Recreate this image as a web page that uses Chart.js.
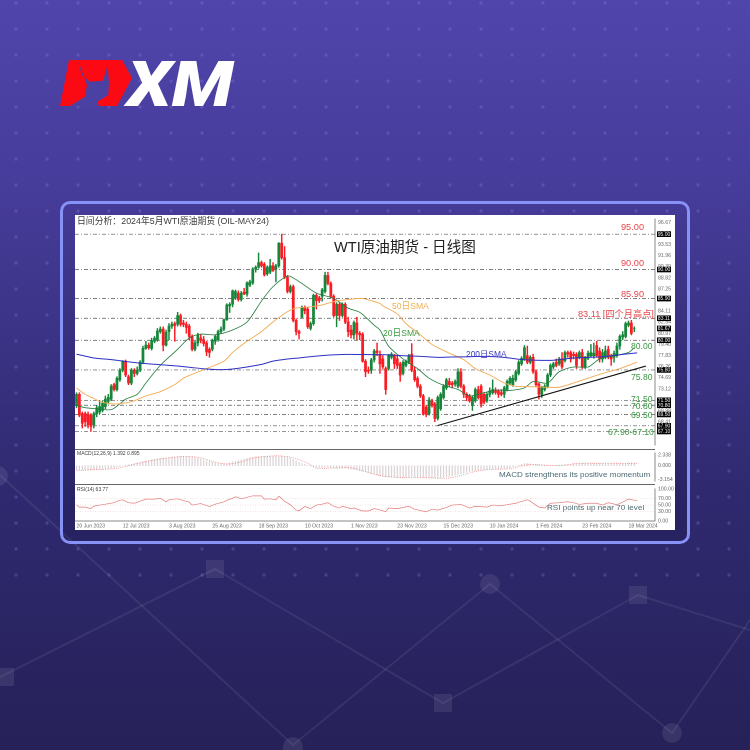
<!DOCTYPE html>
<html>
<head>
<meta charset="utf-8">
<script src="https://cdn.jsdelivr.net/npm/chart.js@4/dist/chart.umd.min.js"></script>
<style>
html, body { margin: 0; padding: 0; }
body { width: 750px; height: 750px; overflow: hidden; position: relative;
  background: linear-gradient(180deg, #5045ab 0%, #463c9a 25%, #2f2a70 65%, #262158 100%);
  font-family: "Liberation Sans", "Noto Sans CJK SC", sans-serif; }
#deco, #logo { position: absolute; left: 0; top: 0; }
#frame { position: absolute; left: 60px; top: 201px; width: 624px; height: 337px;
  border: 3px solid #8891f6; border-radius: 10px; background: linear-gradient(180deg, rgba(0,0,40,0) 0%, rgba(10,5,50,.18) 100%); }
#panel { position: absolute; left: 75px; top: 215px; width: 600px; height: 315px; background: #fff; }
canvas.pane { position: absolute; left: 75px; filter: blur(0.25px); }
.sep { position: absolute; left: 75px; width: 580px; height: 1px; background: #666; }
.note { position: absolute; white-space: nowrap; transform: translateY(-50%); line-height: 1; }
.red { color: #e8474c; font-size: 9.2px; }
.grn { color: #3d9a45; font-size: 8.6px; }
.cap { color: #4c6b72; font-size: 8.1px; }
.tiny { color: #444; font-size: 5px; }
</style>
</head>
<body>
<svg id="deco" width="750" height="750">
  <defs>
    <pattern id="dots" x="16" y="3" width="31" height="26" patternUnits="userSpaceOnUse">
      <circle cx="0" cy="0" r="1.7" fill="#8a84e0" fill-opacity=".28"/>
      <circle cx="31" cy="0" r="1.7" fill="#8a84e0" fill-opacity=".28"/>
      <circle cx="0" cy="26" r="1.7" fill="#8a84e0" fill-opacity=".28"/>
      <circle cx="31" cy="26" r="1.7" fill="#8a84e0" fill-opacity=".28"/>
    </pattern>
  </defs>
  <rect x="0" y="0" width="750" height="590" fill="url(#dots)"/>
  <g fill="none" stroke="#fff" stroke-opacity=".075" stroke-width="2">
    <polyline points="0,677 215,569 443,703 638,595 750,630"/>
    <polyline points="0,475 293,745 490,584 672,733 750,620"/>
  </g>
  <g fill="#fff" fill-opacity=".085">
    <rect x="-3" y="668" width="17" height="18"/>
    <rect x="206" y="560" width="18" height="18"/>
    <rect x="434" y="694" width="18" height="18"/>
    <rect x="629" y="586" width="18" height="18"/>
    <circle cx="-2" cy="476" r="10"/>
    <circle cx="490" cy="584" r="10"/>
    <circle cx="293" cy="747" r="10"/>
    <circle cx="672" cy="733" r="10"/>
  </g>
</svg>
<svg id="logo" width="750" height="200">
  <polygon points="69,60 122,60 132,78 117,106 97,106 60,106" fill="#fb0a14"/>
  <path d="M78.3,61.7 L81.7,75 L90,81.7 L103,80.7 L107.7,65 L109,83 L108.3,95 L97,102 L99,105 L97.3,106 L70,106 L85,96.7 L87,85 Z" fill="#4b41a3"/>
  <text x="127" y="106" font-family="Roboto, 'Liberation Sans', sans-serif" font-size="63" font-weight="900" font-style="italic" fill="#fff" textLength="106" lengthAdjust="spacingAndGlyphs">XM</text>
</svg>
<div id="frame"></div>
<div id="panel"></div>
<canvas id="mainChart" class="pane" style="top:215px" width="600" height="234"></canvas>
<canvas id="macdChart" class="pane" style="top:449px" width="600" height="36"></canvas>
<canvas id="rsiChart" class="pane" style="top:485px" width="600" height="45"></canvas>
<div class="sep" style="top:449px"></div>
<div class="sep" style="top:484px"></div>

<div class="note" style="left:77px;top:221px;font-size:8.85px;color:#3c3c3c">日间分析：2024年5月WTI原油期货 (OIL-MAY24)</div>
<div class="note" style="left:334px;top:247px;font-size:14.6px;color:#222">WTI原油期货 - 日线图</div>
<div class="note red" style="left:621px;top:228px">95.00</div>
<div class="note red" style="left:621px;top:264px">90.00</div>
<div class="note red" style="left:621px;top:295px">85.90</div>
<div class="note red" style="left:578px;top:315px">83.11 [四个月高点]</div>
<div class="note grn" style="left:631px;top:346px">80.00</div>
<div class="note grn" style="left:631px;top:377px">75.80</div>
<div class="note grn" style="left:631px;top:399px">71.50</div>
<div class="note grn" style="left:631px;top:406px">70.80</div>
<div class="note grn" style="left:631px;top:415px">69.50</div>
<div class="note grn" style="left:608px;top:432px">67.90-67.10</div>
<div class="note" style="left:392px;top:306px;font-size:8.6px;color:#f0b050">50日SMA</div>
<div class="note" style="left:383px;top:333px;font-size:8.6px;color:#3d9a45">20日SMA</div>
<div class="note" style="left:466px;top:354px;font-size:8.4px;color:#3a3ac8">200日SMA</div>
<div class="note cap" style="left:499px;top:475px">MACD strengthens its positive momentum</div>
<div class="note cap" style="left:547px;top:508px">RSI points up near 70 level</div>
<div class="note tiny" style="left:77px;top:453px">MACD(12,26,9) 1.392 0.895</div>
<div class="note tiny" style="left:77px;top:489px">RSI(14) 63.77</div>

<script>
// daily candles, one value per bar
const opens = [70.76,72.35,69.62,69.62,69.53,69.4,68.04,69.62,69.85,70.08,
70.62,71.35,71.67,73.72,73.03,74.4,75.76,77.03,74.85,73.94,
75.76,75.31,75.76,76.9,78.85,79.31,78.85,79.85,80.08,81.22,
81.58,79.31,81.22,81.99,82.35,82.26,83.49,82.44,82.26,81.99,
80.53,78.72,79.62,80.31,80.08,79.62,78.72,78.72,79.85,80.08,
81.22,81.58,82.9,84.85,85.08,85.99,86.67,85.76,86.81,86.53,
87.81,88.12,90.08,90.31,90.99,90.76,89.4,89.62,90.53,90.08,
90.53,93.72,91.67,88.94,86.9,87.58,82.81,81.22,83.26,84.62,
84.4,81.67,82.35,86.35,85.99,86.22,86.9,89.17,88.03,86.22,
83.49,85.08,83.49,85.08,82.58,81.44,80.76,82.44,80.99,80.85,
77.03,75.76,75.76,77.22,78.49,78.03,77.35,75.99,75.99,77.58,
77.81,77.35,76.67,75.31,76.44,76.9,78.03,75.76,74.62,73.49,
72.12,70.53,69.62,71.44,70.99,68.94,70.31,71.9,73.26,74.17,
73.94,73.81,73.49,75.53,73.49,72.35,72.12,70.76,71.44,73.03,
73.49,72.35,71.44,72.35,72.58,72.9,72.81,72.58,72.35,73.03,
73.94,73.72,74.4,75.31,76.67,77.35,77.81,76.9,77.58,75.53,
73.81,72.35,73.03,73.49,75.08,76.22,76.9,76.67,77.35,77.12,
78.26,78.26,78.03,78.03,77.58,78.26,76.22,77.44,77.81,77.81,
79.26,78.49,77.35,77.81,78.72,77.81,77.58,77.81,79.17,80.44,
80.53,82.12,82.44,81.67];
const closes = [72.35,69.4,68.26,68.49,68.04,67.81,69.62,70.44,70.62,71.08,
71.67,71.9,73.49,73.03,74.62,75.76,77.03,75.08,73.94,75.76,
75.31,75.76,76.9,78.85,79.31,78.94,79.94,80.31,81.31,81.58,
79.31,81.12,81.99,82.26,82.08,83.49,82.26,82.22,81.81,80.53,
78.72,79.62,80.76,79.99,79.53,78.35,78.26,79.99,80.53,81.22,
81.58,82.9,84.99,85.08,86.99,86.9,85.76,86.67,86.53,88.12,
88.26,90.08,90.31,90.99,90.53,89.26,90.31,90.53,89.85,90.53,
93.72,91.67,88.94,86.9,87.58,82.81,81.22,80.99,84.62,84.17,
81.9,82.35,86.35,85.62,85.62,87.12,89.17,88.03,86.22,83.49,
85.08,83.49,85.08,82.58,81.22,80.76,82.49,80.99,80.76,77.03,
75.53,75.62,77.22,78.49,78.26,76.67,76.22,73.03,77.81,78.03,
76.67,76.44,75.08,76.9,76.99,77.81,75.76,74.4,73.49,72.12,
69.53,69.53,71.58,70.76,68.94,71.9,72.35,73.49,74.4,73.72,
73.72,74.17,75.53,73.49,72.35,71.9,71.44,71.9,73.03,71.9,
70.99,71.22,72.35,72.81,73.03,72.62,72.35,72.35,73.26,74.17,
74.62,74.62,75.53,76.9,77.44,78.94,76.9,77.58,75.53,73.72,
72.35,73.26,73.49,75.08,76.44,76.67,76.44,77.35,76.22,78.26,
78.03,77.35,77.81,76.44,78.26,76.22,77.44,78.17,78.26,78.17,
77.81,77.35,78.26,78.49,77.58,77.35,78.12,79.17,80.53,80.76,
82.35,82.44,80.99,81.67];
const highs = [72.58,72.58,69.85,69.85,69.85,69.62,69.85,70.76,71.44,71.35,
72.12,72.35,73.72,73.94,74.85,75.99,77.12,77.22,75.08,75.99,
75.99,76.22,77.12,79.17,79.85,79.62,80.31,80.53,81.67,81.9,
81.9,81.44,82.35,82.58,82.58,83.94,83.72,82.81,82.58,82.26,
80.76,79.85,80.99,80.76,80.53,79.85,78.94,80.17,80.76,81.44,
81.9,83.03,85.17,85.31,87.12,87.12,86.99,86.9,87.35,88.26,
88.49,90.26,90.53,92.35,91.22,90.99,90.53,91.44,90.99,90.76,
93.81,95.0,93.26,89.17,87.81,87.81,83.03,81.44,84.85,84.85,
84.62,82.58,86.53,86.53,86.22,87.35,89.62,89.62,88.26,86.44,
85.31,85.31,85.31,85.31,83.26,82.12,82.72,83.26,81.22,81.08,
77.26,76.22,77.44,78.72,79.62,78.49,77.81,76.22,78.03,78.26,
78.03,77.81,76.9,77.12,77.22,78.03,79.53,76.22,74.85,73.72,
72.35,70.76,71.9,71.67,71.22,72.12,72.58,73.72,74.62,74.62,
74.17,74.4,75.99,75.99,73.72,72.58,72.35,72.12,73.26,73.49,
73.72,72.58,72.58,73.26,74.4,73.26,73.03,73.03,73.49,74.4,
74.85,75.08,75.76,77.12,77.67,79.26,79.17,77.81,78.03,75.76,
73.94,73.49,73.72,75.31,76.67,76.9,77.35,77.58,78.26,78.49,
78.49,78.49,78.35,78.26,78.49,78.72,77.72,78.49,79.4,79.62,
79.85,78.94,78.72,79.17,79.17,78.03,78.49,79.62,80.76,81.22,
82.58,82.72,82.81,81.9];
const lows = [70.44,69.17,67.58,67.81,67.58,67.12,67.58,69.17,69.62,69.85,
70.31,70.99,71.44,72.81,72.81,74.17,75.53,74.85,73.72,73.72,
74.85,75.08,75.53,76.67,78.72,78.72,78.62,79.62,79.85,80.99,
78.49,79.17,80.08,81.67,79.85,81.99,81.99,81.9,80.99,80.08,
78.49,78.49,79.17,79.62,79.17,77.81,77.58,78.49,79.4,79.85,
80.99,81.35,82.81,83.94,84.72,85.76,85.53,85.53,86.44,86.22,
87.58,87.9,89.62,90.17,90.31,89.08,89.17,89.4,89.72,88.26,
90.31,91.44,88.72,86.67,86.67,82.58,80.76,80.17,83.17,83.72,
81.67,81.44,82.12,84.4,85.31,85.53,86.67,87.81,85.99,83.26,
81.9,82.81,83.26,82.35,80.53,80.31,80.17,80.08,80.08,76.9,
74.85,75.31,75.31,76.9,77.81,75.31,75.99,72.35,75.76,77.35,
75.99,75.99,74.17,75.08,76.22,76.67,75.53,74.17,73.26,71.9,
69.4,69.17,69.4,70.53,68.49,68.72,70.08,71.67,73.03,73.49,
73.26,73.49,73.26,73.26,71.9,71.44,71.22,70.08,71.22,71.67,
70.53,70.99,71.22,71.99,72.35,72.35,71.9,72.12,71.9,72.81,
73.72,73.49,74.17,75.08,76.44,77.12,76.67,76.67,75.31,73.49,
71.67,71.9,72.81,73.26,74.85,75.99,76.22,76.44,75.99,76.9,
77.58,76.9,77.35,75.99,77.35,75.99,75.99,77.26,77.58,77.44,
77.58,76.9,76.9,77.35,77.35,76.44,76.9,77.58,78.72,80.08,
80.31,81.9,80.76,81.22];

// moving averages, read at the bars listed
const sma200Bars = [0,6,12,17,23,29,35,40,45,50,54,59,64,68,73,77,82,87,92,98,105,107,113,119,125,130,136,142,148,153,159,165,171,177,182,188,194];
const sma200 = [78.04,77.49,77.26,76.99,76.72,76.54,76.35,76.13,75.94,75.85,75.94,76.22,76.58,77.04,77.35,77.49,77.72,77.9,77.99,77.99,77.95,77.95,77.81,77.72,77.58,77.63,77.67,77.72,77.58,77.31,77.17,77.17,77.45,77.58,77.67,77.95,78.22];
const sma50Bars = [0,3,6,9,13,16,20,24,29,34,37,40,45,51,54,59,64,68,73,76,81,85,90,95,99,105,106,111,114,119,123,129,134,138,143,148,152,157,163,167,172,177,182,188,194];
const sma50 = [73.26,72.35,71.76,71.22,70.99,71.08,71.44,72.13,72.72,73.72,74.63,75.17,75.99,77.04,78.26,79.86,81.22,82.58,84.04,84.54,84.72,85,85.54,85.81,85.9,85.2,84.86,83.72,82.35,80.77,79.4,78.17,77.26,75.99,75.08,73.95,73.49,73.44,73.35,73.35,73.95,74.63,75.31,75.99,76.9];
const sma20Bars = [0,3,7,12,15,17,21,24,29,35,39,43,48,54,59,64,68,73,75,78,83,89,94,98,103,105,108,113,118,122,127,132,136,141,145,150,155,158,163,167,172,177,181,186,191,193];
const sma20 = [70.78,70.46,70.32,70.18,71,71.67,72.35,73.95,76.45,78.72,80.31,80.86,80.77,81.45,82.58,85.54,87.58,89.08,88.81,88.03,86.67,85.9,84.54,83.95,82.13,81.45,79.17,77.35,75.99,74.63,73.63,73.04,72.13,72.58,72.95,72.9,73.26,74.17,73.95,75.54,76.22,76.22,77.35,77.81,78.26,78.95];

// horizontal levels and the rising trend line
const levels = [95,90,85.9,83.11,80,75.8,71.5,70.8,69.5,67.9,67.1];
const trendBars = [125,197];
const trendValues = [67.94,76.35];
const priceTicks = [96.67,95.1,93.53,91.96,90.39,88.82,87.25,85.68,84.11,82.54,80.97,79.4,77.83,76.26,74.69,73.12,71.55,69.98,68.41,66.84];

// MACD panel
const macdHist = [-.9,-.9,-.95,-1,-1,-1,-.95,-.9,-.85,-.8,
-.75,-.7,-.6,-.5,-.35,-.2,-.05,.1,.2,.3,
.45,.6,.75,.9,1.05,1.2,1.3,1.4,1.55,1.65,
1.7,1.75,1.8,1.9,1.95,2,2.05,2.05,2.05,2,
1.9,1.8,1.65,1.5,1.3,1.1,.95,.8,.65,.55,
.45,.45,.5,.65,.85,1,1.15,1.3,1.5,1.65,
1.8,1.9,2,2.05,2.1,2.1,2.1,2.15,2.15,2.2,
2.2,2.15,2.05,1.9,1.7,1.4,1.05,.75,.45,.3,
.1,-.1,-.3,-.35,-.4,-.4,-.4,-.4,-.45,-.5,
-.55,-.55,-.55,-.55,-.65,-.75,-.85,-.95,-1.05,-1.2,
-1.4,-1.6,-1.8,-1.95,-2.1,-2.25,-2.4,-2.5,-2.55,-2.6,
-2.6,-2.65,-2.65,-2.7,-2.65,-2.6,-2.55,-2.55,-2.6,-2.65,
-2.7,-2.75,-2.75,-2.8,-2.8,-2.85,-2.75,-2.65,-2.5,-2.4,
-2.3,-2.15,-1.95,-1.8,-1.65,-1.5,-1.35,-1.2,-1.1,-1,
-.95,-.9,-.85,-.8,-.75,-.75,-.7,-.7,-.65,-.6,
-.5,-.3,-.1,.1,.3,.45,.45,.4,.3,.3,
.25,.2,.15,.1,.05,.05,.05,.1,.15,.2,
.25,.3,.4,.5,.55,.6,.6,.55,.55,.55,
.55,.55,.5,.5,.5,.45,.45,.45,.45,.5,
.55,.6,.65,.65];
const macdSignalBars = [0,6,12,16,21,27,32,38,43,47,52,57,61,66,70,75,80,83,88,95,99,105,113,121,128,133,138,143,150,156,160,167,173,180,187,194];
const macdSignal = [-1.16,-.86,-.74,-.37,.48,1.27,1.76,2.06,1.76,.97,.36,.84,1.7,2.06,2.19,1.76,.54,-.55,-.55,-.49,-1.16,-2.2,-2.69,-2.69,-2.81,-2.2,-1.29,-.86,-.68,.18,.18,0,.48,.54,.54,.48];
const macdTicks = [2.338,0,-3.154];

// RSI panel
const rsiBars = [0,1,3,5,6,8,10,13,14,16,18,20,22,24,27,29,31,32,35,37,39,40,43,46,48,51,53,54,55,57,59,61,64,65,67,69,70,72,74,76,77,79,81,83,85,87,89,91,92,95,96,99,101,103,104,107,108,111,115,117,121,123,125,128,130,133,136,138,142,144,147,150,152,155,156,157,160,162,164,167,170,172,174,177,180,182,184,187,189,191,194];
const rsiValues = [50.9,43.5,43.5,38.8,46.3,50,52.8,57.5,62.1,66.8,57.5,55.6,62.1,68.6,68.6,71.4,60.3,66.8,69.6,64,59.3,50,54.7,45.3,52.8,60.3,68.6,71.4,76.1,69.6,74.2,78.9,78.9,68.6,69.6,66.8,78,62.1,50.9,34.2,32.3,45.3,38.8,50,52.8,57.5,46.3,40.7,46.3,38.8,40.7,31.4,31.4,38.8,37,29.5,40.7,38.8,46.3,37,28.6,37,34.2,42.5,50,51.9,40.7,46.3,43.5,50,48.1,52.8,55.6,64,66.8,62.1,43.5,40.7,55.6,57.5,60.3,57.5,51.9,55.6,55.6,50,57.5,50.9,59.3,68.6,63.77];
const rsiLevels = [70,50,30];
const rsiTicks = [100,70,50,30,0];

// date axis
const tickBars = [0,16,32,47,63,79,95,111,127,143,159,175,191];
const tickDates = ["20 Jun 2023","12 Jul 2023","3 Aug 2023","25 Aug 2023","18 Sep 2023","10 Oct 2023","1 Nov 2023","23 Nov 2023","15 Dec 2023","10 Jan 2024","1 Feb 2024","23 Feb 2024","18 Mar 2024"];

const xMin = -0.52, xMax = 200.17;
const upColor = "#16863a", downColor = "#fa1c24";
const axisGrey = "#888", tickText = "#666";
const candleColors = opens.map((o, i) => closes[i] >= o ? upColor : downColor);

function pairs(xs, ys) {
    return xs.map((x, i) => ({x: x, y: ys[i]}));
}

function lineSet(xs, ys, color, width, extra) {
    return Object.assign({
        type: "line", data: pairs(xs, ys), borderColor: color, borderWidth: width,
        pointRadius: 0, tension: 0, order: 1
    }, extra || {});
}

function xScale(showLabels) {
    return {
        type: "linear", min: xMin, max: xMax, display: showLabels, offset: false,
        grid: {display: false, drawTicks: true, tickLength: 2},
        border: {color: axisGrey},
        afterBuildTicks: axis => { axis.ticks = tickBars.map(v => ({value: v})); },
        afterFit: axis => { if (showLabels) axis.height = 9; },
        ticks: {
            autoSkip: false, maxRotation: 0, align: "start", padding: 0,
            color: tickText, font: {size: 5.2, family: "Liberation Sans"},
            callback: v => tickDates[tickBars.indexOf(v)]
        }
    };
}

function yScale(min, max, tickValues, digits) {
    return {
        position: "right", min: min, max: max,
        grid: {display: false, tickLength: 2},
        border: {color: axisGrey},
        afterBuildTicks: axis => { axis.ticks = tickValues.map(v => ({value: v})); },
        afterFit: axis => { axis.width = 20; },
        ticks: {
            autoSkip: false, padding: 1, color: tickText,
            font: {size: 5.2, family: "Liberation Sans"},
            callback: v => v.toFixed(digits)
        }
    };
}

// black price boxes on the right axis
const priceBoxes = {
    id: "priceBoxes",
    afterDraw(chart) {
        const ctx = chart.ctx, y = chart.scales.y;
        const values = levels.concat([closes[closes.length - 1]]);
        ctx.save();
        ctx.font = "5px 'Liberation Sans'";
        ctx.textAlign = "center";
        ctx.textBaseline = "middle";
        values.forEach(v => {
            const py = y.getPixelForValue(v);
            ctx.fillStyle = "#000";
            ctx.fillRect(y.left + 2, py - 2.8, 14, 5.6);
            ctx.fillStyle = "#fff";
            ctx.fillText(v.toFixed(2), y.left + 9, py + 0.2);
        });
        ctx.restore();
    }
};

const common = {
    responsive: false, animation: false, devicePixelRatio: 2,
    layout: {padding: 0},
    plugins: {legend: {display: false}, tooltip: {enabled: false}}
};

const wickSet = {
    type: "bar", data: lows.map((l, i) => ({x: i, y: [l, highs[i]]})),
    backgroundColor: candleColors, barThickness: 0.8, grouped: false, order: 3
};
const bodySet = {
    type: "bar", data: opens.map((o, i) => ({x: i, y: [o, closes[i]]})),
    backgroundColor: candleColors, barThickness: 2.1, grouped: false, order: 2
};
const levelSets = levels.map(v => lineSet([xMin, xMax], [v, v], "#555", 0.7, {borderDash: [4, 2, 1, 2], order: 4}));

new Chart(document.getElementById("mainChart"), {
    data: {
        datasets: levelSets.concat([
            wickSet, bodySet,
            lineSet(sma200Bars, sma200, "#2f2fc4", 1, {tension: 0.3}),
            lineSet(sma50Bars, sma50, "#f2ab54", 0.9, {tension: 0.3}),
            lineSet(sma20Bars, sma20, "#1f7a3a", 0.8, {tension: 0.3}),
            lineSet(trendBars, trendValues, "#111", 1.1)
        ])
    },
    options: Object.assign({}, common, {
        scales: {x: xScale(false), y: yScale(65.2, 97.13, priceTicks, 2)}
    }),
    plugins: [priceBoxes]
});

new Chart(document.getElementById("macdChart"), {
    data: {
        datasets: [
            {type: "bar", data: macdHist.map((v, i) => ({x: i, y: v})), backgroundColor: "#dcd3d6", barThickness: 0.6, order: 2},
            lineSet(macdSignalBars, macdSignal, "#ef7f7f", 0.7, {borderDash: [1, 1.2], tension: 0.3})
        ]
    },
    options: Object.assign({}, common, {
        scales: {x: xScale(false), y: yScale(-3.4, 2.8, macdTicks, 3)}
    })
});

new Chart(document.getElementById("rsiChart"), {
    data: {
        datasets: rsiLevels.map(v => lineSet([xMin, xMax], [v, v], "#ecd3d3", 0.6, {borderDash: [1, 1.5], order: 2}))
            .concat([lineSet(rsiBars, rsiValues, "#e37b7b", 0.7)])
    },
    options: Object.assign({}, common, {
        scales: {x: xScale(true), y: yScale(0, 100, rsiTicks, 2)}
    })
});
</script>
</body>
</html>
